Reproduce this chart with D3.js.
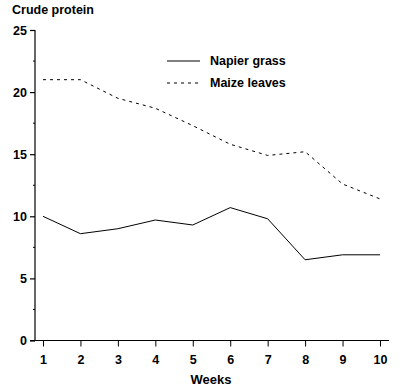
<!DOCTYPE html>
<html>
<head>
<meta charset="utf-8">
<script src="https://cdn.jsdelivr.net/npm/d3@7"></script>
<style>
  body { margin: 0; background: #fff; }
  text { font-family: "Liberation Sans", Arial, sans-serif; font-weight: bold; fill: #000; }
</style>
</head>
<body>
<div class="chart-holder"></div>
<script>
// Values
const weeks = [1, 2, 3, 4, 5, 6, 7, 8, 9, 10];
const napier = [10.0, 8.6, 9.0, 9.7, 9.3, 10.7, 9.8, 6.5, 6.9, 6.9];
const maize = [21.0, 21.0, 19.5, 18.7, 17.3, 15.8, 14.9, 15.2, 12.6, 11.4];
const yTicks = [0, 5, 10, 15, 20, 25];
const yMinor = [2.5, 7.5, 12.5, 17.5, 22.5];

const width = 400;
const height = 388;

const svg = d3.select('.chart-holder').append('svg')
  .attr('width', width)
  .attr('height', height);

// Scales
const x = d3.scaleLinear().domain([1, 10]).range([43, 380]);
const y = d3.scaleLinear().domain([0, 25]).range([340.5, 30]);

// Y axis
const yAxis = svg.append('g')
  .attr('transform', 'translate(35,0)')
  .call(d3.axisLeft(y).tickValues(yTicks).tickSize(5).tickPadding(3));
yAxis.select('.domain').attr('d', 'M0,' + y(25) + 'V' + y(0));
yAxis.selectAll('text').style('font-size', '12.5px').style('font-family', '"Liberation Sans", Arial, sans-serif').style('font-weight', 'bold');
yAxis.selectAll('line, path').attr('stroke', '#000').attr('stroke-width', 1.2);

// minor ticks
svg.append('g').selectAll('line')
  .data(yMinor)
  .enter().append('line')
  .attr('x1', 33).attr('x2', 35)
  .attr('y1', d => y(d)).attr('y2', d => y(d))
  .attr('stroke', '#000');

// X axis
const xAxis = svg.append('g')
  .attr('transform', 'translate(0,' + y(0) + ')')
  .call(d3.axisBottom(x).tickValues(weeks).tickSize(6).tickPadding(9).tickFormat(d3.format('d')));
xAxis.select('.domain').attr('d', 'M30,0H389');
xAxis.selectAll('text').style('font-size', '12.5px').style('font-family', '"Liberation Sans", Arial, sans-serif').style('font-weight', 'bold');
xAxis.selectAll('line, path').attr('stroke', '#000').attr('stroke-width', 1.2);
xAxis.selectAll('.tick line').attr('stroke-width', 1);

// Lines
const line = d3.line()
  .x((d, i) => x(weeks[i]))
  .y(d => y(d));

svg.append('path')
  .datum(napier)
  .attr('fill', 'none')
  .attr('stroke', '#000')
  .attr('stroke-width', 1)
  .attr('d', line);

svg.append('path')
  .datum(maize)
  .attr('fill', 'none')
  .attr('stroke', '#000')
  .attr('stroke-width', 1)
  .attr('stroke-dasharray', '3,4')
  .attr('d', line);

// Titles
svg.append('text')
  .attr('x', 12)
  .attr('y', 14)
  .style('font-size', '12.5px')
  .text('Crude protein');

svg.append('text')
  .attr('x', 211)
  .attr('y', 384)
  .attr('text-anchor', 'middle')
  .style('font-size', '13px')
  .text('Weeks');

// Legend
const legend = svg.append('g')
  .attr('transform', 'translate(167,61)');

legend.append('line')
  .attr('x1', 0).attr('x2', 33)
  .attr('stroke', '#000')
  .attr('stroke-width', 1.2);

legend.append('text')
  .attr('x', 43)
  .attr('y', 4)
  .style('font-size', '12.5px')
  .text('Napier grass');

legend.append('line')
  .attr('x1', 0).attr('x2', 33)
  .attr('y1', 22).attr('y2', 22)
  .attr('stroke', '#000')
  .attr('stroke-width', 1)
  .attr('stroke-dasharray', '3,4');

legend.append('text')
  .attr('x', 43)
  .attr('y', 26)
  .style('font-size', '12.5px')
  .text('Maize leaves');
</script>
</body>
</html>
